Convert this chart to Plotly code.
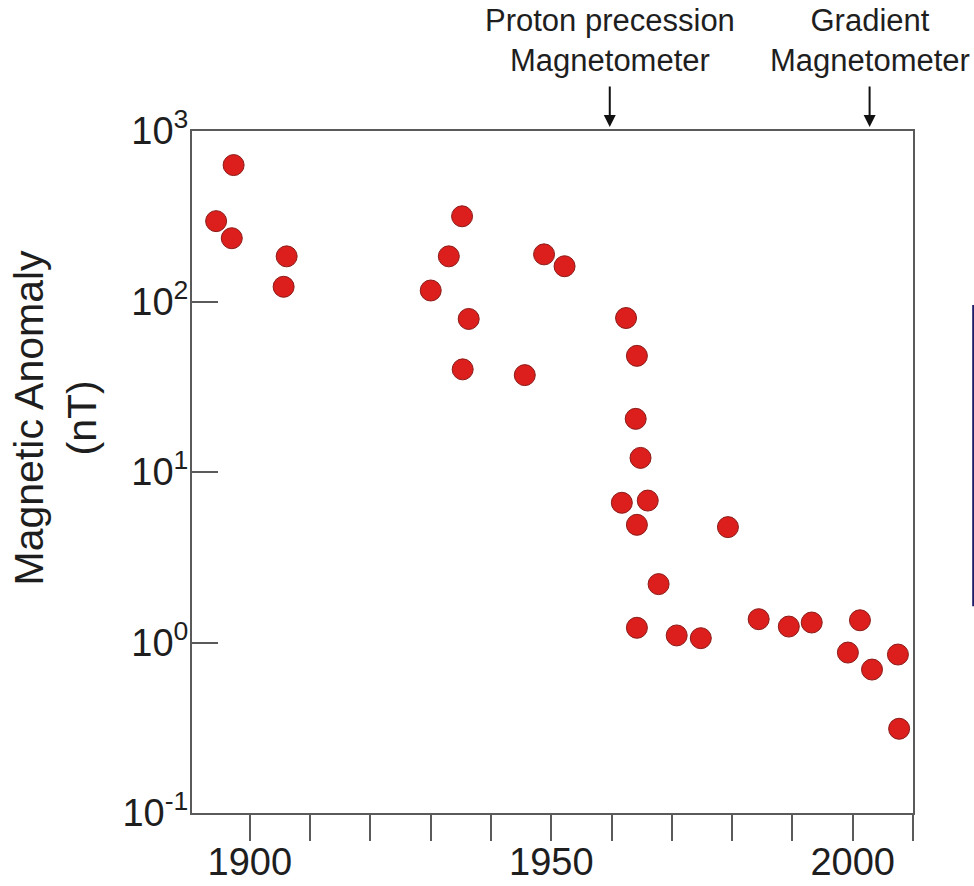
import plotly.graph_objects as go

# Data
years = [1894.4, 1897.3, 1897.0, 1906.1, 1905.6, 1930.0, 1933.0, 1935.2, 1936.3, 1935.3,
         1945.6, 1948.8, 1952.2, 1962.4, 1964.2, 1964.0, 1964.8, 1961.7, 1966.0, 1964.2,
         1967.8, 1964.2, 1970.8, 1974.8, 1979.3, 1984.4, 1989.4, 1993.2, 1999.2, 2001.2,
         2003.2, 2007.5, 2007.7]
anomaly_nT = [296, 631, 235, 184, 122, 116, 184, 316, 79, 40,
              37, 189, 161, 80, 48, 20.5, 12.1, 6.6, 6.8, 4.9,
              2.2, 1.22, 1.10, 1.06, 4.75, 1.37, 1.24, 1.31, 0.873, 1.35,
              0.694, 0.85, 0.312]

x_tick_vals = [1900, 1910, 1920, 1930, 1940, 1950, 1960, 1970, 1980, 1990, 2000, 2010]
x_tick_text = ["1900", "", "", "", "", "1950", "", "", "", "", "2000", ""]
y_tick_vals = [0.1, 1, 10, 100, 1000]
y_tick_text = ["10<sup>-1</sup>", "10<sup>0</sup>", "10<sup>1</sup>", "10<sup>2</sup>", "10<sup>3</sup>"]

event_years = [1959.7, 2002.8]
event_labels = ["Proton precession<br>Magnetometer", "Gradient<br>Magnetometer"]

FONT = "Liberation Sans, Arial, sans-serif"
AXIS_COLOR = "#5a5a5a"
TEXT_COLOR = "#1e1e1e"

fig = go.Figure()
fig.add_trace(go.Scatter(
    x=years, y=anomaly_nT, mode="markers",
    marker=dict(size=21, color="#dc1f1c", line=dict(color="#8a1a18", width=1)),
    showlegend=False, hoverinfo="x+y",
))

fig.update_layout(
    width=974, height=886,
    margin=dict(l=192, r=61, t=131, b=73),
    paper_bgcolor="white", plot_bgcolor="white",
    font=dict(family=FONT, color=TEXT_COLOR),
    showlegend=False,
)

fig.update_xaxes(
    range=[1890.4, 2010], automargin=False,
    tickvals=x_tick_vals, ticktext=x_tick_text,
    ticks="outside", ticklen=26, tickwidth=2, tickcolor=AXIS_COLOR,
    tickfont=dict(size=38, color=TEXT_COLOR, family=FONT),
    ticklabelstandoff=-12,
    showline=True, linecolor=AXIS_COLOR, linewidth=2, mirror=True,
    showgrid=False, zeroline=False,
)
fig.update_yaxes(
    type="log", range=[-1, 3], automargin=False,
    tickvals=y_tick_vals, ticktext=y_tick_text,
    ticks="inside", ticklen=26, tickwidth=2, tickcolor=AXIS_COLOR,
    tickfont=dict(size=38, color=TEXT_COLOR, family=FONT),
    ticklabelstandoff=-6,
    showline=True, linecolor=AXIS_COLOR, linewidth=2, mirror=True,
    showgrid=False, zeroline=False,
)

# Y axis title
fig.add_annotation(
    text="Magnetic Anomaly<br>(nT)", textangle=-90,
    xref="paper", yref="paper", x=-0.19, y=0.58,
    xanchor="center", yanchor="middle", showarrow=False,
    font=dict(size=41, color=TEXT_COLOR, family=FONT),
)

# Event arrows and labels
for yr, lab in zip(event_years, event_labels):
    fig.add_annotation(
        x=yr, y=1.006, xref="x", yref="paper",
        ax=0, ay=-42, axref="pixel", ayref="pixel",
        showarrow=True, arrowhead=2, arrowsize=1.2, arrowwidth=2,
        arrowcolor="#111111", text="",
    )
    fig.add_annotation(
        x=yr, y=1.133, xref="x", yref="paper",
        text=lab, showarrow=False, xanchor="center", yanchor="middle",
        font=dict(size=31, color=TEXT_COLOR, family=FONT),
    )

# Thin dark line at the right edge of the picture
fig.add_shape(
    type="line", xref="paper", yref="paper",
    x0=1.0835, x1=1.0835, y0=0.303, y1=0.745,
    line=dict(color="#1c1c6a", width=2),
)

fig.write_html("out.html")
